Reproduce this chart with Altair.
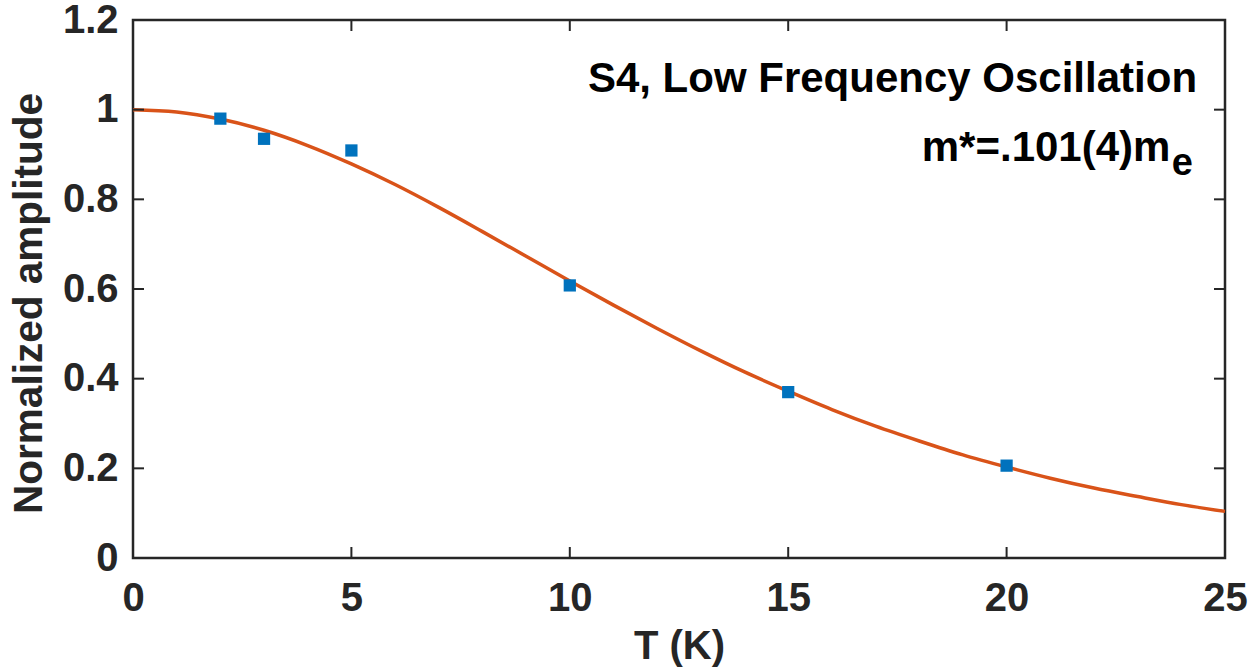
import altair as alt
import pandas as pd

# Measured data points
T_data = [2, 3, 5, 10, 15, 20]
A_data = [0.980, 0.935, 0.909, 0.608, 0.370, 0.206]

# Fit curve
T_fit = list(range(0, 26))
A_fit = [1.000, 0.995, 0.979, 0.954, 0.920, 0.879, 0.833, 0.782, 0.728, 0.673,
         0.618, 0.564, 0.512, 0.462, 0.415, 0.372, 0.331, 0.294, 0.261, 0.230,
         0.203, 0.178, 0.156, 0.137, 0.119, 0.104]

x_ticks = [0, 5, 10, 15, 20, 25]
y_ticks = [0, 0.2, 0.4, 0.6, 0.8, 1.0, 1.2]

line1 = "S4, Low Frequency Oscillation"
line2 = "m*=.101(4)m"
line2_sub = "e"

W, H = 1092, 538
FONT = "Liberation Sans"
DARK = "#262626"

df_data = pd.DataFrame({"T": T_data, "A": A_data})
df_fit = pd.DataFrame({"T": T_fit, "A": A_fit})
df_xt = pd.DataFrame({"t": x_ticks})
df_yt = pd.DataFrame({"v": y_ticks})

xscale = alt.Scale(domain=[0, 25], nice=False, zero=False)
yscale = alt.Scale(domain=[0, 1.2], nice=False, zero=False)

xaxis = alt.Axis(values=x_ticks, grid=False, ticks=False, domain=False,
                 labelFont=FONT, labelFontSize=40, labelFontWeight="bold", labelColor=DARK,
                 labelPadding=20, title="T (K)", titleFont=FONT, titleFontSize=40,
                 titleFontWeight="bold", titleColor=DARK, titlePadding=8,
                 labelFlush=False, labelOverlap=False)
yaxis = alt.Axis(values=y_ticks, grid=False, ticks=False, domain=False,
                 labelFont=FONT, labelFontSize=40, labelFontWeight="bold", labelColor=DARK,
                 labelPadding=15, title="Normalized amplitude", titleFont=FONT, titleFontSize=40.5,
                 titleFontWeight="bold", titleColor=DARK, titlePadding=12, titleY=283,
                 labelFlush=False, labelOverlap=False,
                 labelExpr="datum.value == 0 ? '0' : datum.value == 1 ? '1' : format(datum.value, '.1f')")

fit = alt.Chart(df_fit).mark_line(color="#D95319", strokeWidth=3.5, interpolate="monotone").encode(
    x=alt.X("T:Q", scale=xscale, axis=xaxis),
    y=alt.Y("A:Q", scale=yscale, axis=yaxis),
)

pts = alt.Chart(df_data).mark_square(color="#0072BD", size=150, opacity=1, filled=True).encode(
    x=alt.X("T:Q", scale=xscale),
    y=alt.Y("A:Q", scale=yscale),
)

TL = 11
tick_style = dict(color=DARK, strokeWidth=2)
xt_bottom = alt.Chart(df_xt).mark_rule(**tick_style).encode(
    x=alt.X("t:Q", scale=xscale), y=alt.value(H), y2=alt.value(H - TL))
xt_top = alt.Chart(df_xt).mark_rule(**tick_style).encode(
    x=alt.X("t:Q", scale=xscale), y=alt.value(0), y2=alt.value(TL))
yt_left = alt.Chart(df_yt).mark_rule(**tick_style).encode(
    y=alt.Y("v:Q", scale=yscale), x=alt.value(0), x2=alt.value(TL))
yt_right = alt.Chart(df_yt).mark_rule(**tick_style).encode(
    y=alt.Y("v:Q", scale=yscale), x=alt.value(W), x2=alt.value(W - TL))

txt_style = dict(font=FONT, fontSize=42, fontWeight="bold", color="black", baseline="alphabetic")
t1 = alt.Chart(pd.DataFrame({"s": [line1]})).mark_text(align="right", **txt_style).encode(
    x=alt.datum(24.36, scale=xscale), y=alt.datum(1.039, scale=yscale), text="s:N")
t2 = alt.Chart(pd.DataFrame({"s": [line2]})).mark_text(align="right", **txt_style).encode(
    x=alt.datum(23.75, scale=xscale), y=alt.datum(0.885, scale=yscale), text="s:N")
t3 = alt.Chart(pd.DataFrame({"s": [line2_sub]})).mark_text(align="left", dy=14,
    **{**txt_style, "fontSize": 38}).encode(
    x=alt.datum(23.78, scale=xscale), y=alt.datum(0.885, scale=yscale), text="s:N")

chart = alt.layer(fit, pts, xt_bottom, xt_top, yt_left, yt_right, t1, t2, t3).properties(
    width=W, height=H,
    padding={"left": 133, "top": 20, "right": 35, "bottom": 114},
    autosize=alt.AutoSizeParams(type="none"),
    background="white",
).configure_view(stroke=DARK, strokeWidth=2.5)

chart.save("out.html", embed_options={"renderer": "svg", "actions": False})
